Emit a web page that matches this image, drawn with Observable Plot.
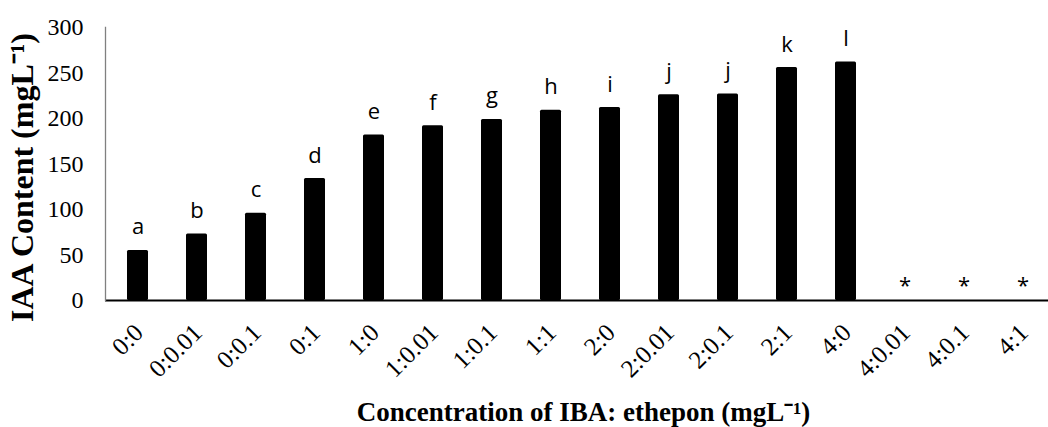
<!DOCTYPE html>
<html>
<head>
<meta charset="utf-8">
<script src="https://cdn.jsdelivr.net/npm/d3@7"></script>
<script src="https://cdn.jsdelivr.net/npm/@observablehq/plot@0.6"></script>
<style>
  html, body { margin: 0; padding: 0; background: #fff; }
  #chart svg { display: block; }
</style>
</head>
<body>
<div id="chart"></div>
<script>
const categories = ["0:0","0:0.01","0:0.1","0:1","1:0","1:0.01","1:0.1","1:1","2:0","2:0.01","2:0.1","2:1","4:0","4:0.01","4:0.1","4:1"];
const iaaValues = [55, 73, 96, 134, 182, 192, 199, 209, 212, 226, 227, 256, 262, 0, 0, 0];
const letters = ["a","b","c","d","e","f","g","h","i","j","j","k","l","*","*","*"];
const yTicks = [0, 50, 100, 150, 200, 250, 300];
const yTitle = "IAA Content (mgL\u207B\u00B9)";
const xTitle = "Concentration of IBA: ethepon (mgL\u207B\u00B9)";

const data = categories.map((c, i) => ({cat: c, value: iaaValues[i], letter: letters[i]}));
const bars = data.filter(d => d.value > 0);
const stars = data.filter(d => d.value === 0);

const serif = "'Liberation Serif', 'Times New Roman', serif";
const sans = "'Open Sans', 'Noto Sans', sans-serif";

const chart = Plot.plot({
  width: 1048,
  height: 427,
  marginLeft: 105,
  marginRight: 0,
  marginTop: 27,
  marginBottom: 127,
  style: {background: "#fff", color: "#000"},
  x: {domain: categories, range: [103, 1057], paddingInner: 0.65, paddingOuter: 0.325, axis: null},
  y: {domain: [0, 300], range: [300, 27], axis: null},
  marks: [
    Plot.barY(bars, {x: "cat", y: "value", fill: "#000", rx: 1.5}),
    Plot.ruleY([0], {stroke: "#000", strokeWidth: 2}),
    Plot.frame({anchor: "left", stroke: "#808080", strokeWidth: 1.3}),
    Plot.axisY({ticks: yTicks, tickSize: 0, tickPadding: 22, fontSize: 24, fontFamily: serif, label: null}),
    Plot.text(categories, {x: d => d, y: () => 0, text: d => d, rotate: -45, textAnchor: "end", lineAnchor: "middle", dx: 1, dy: 28, fontSize: 25, fontFamily: serif, fill: "#000"}),
    Plot.text(bars, {x: "cat", y: "value", text: "letter", lineAnchor: "bottom", dy: -16, fontSize: 22, fontFamily: sans, fill: "#000"}),
    Plot.text(stars, {x: "cat", y: "value", text: "letter", lineAnchor: "bottom", dy: -8, fontSize: 22, fontFamily: sans, fill: "#000"}),
    Plot.text([xTitle], {frameAnchor: "bottom", dx: 583 - (105 + 1048) / 2, dy: 120, lineAnchor: "bottom", fontSize: 27, fontWeight: "bold", fontFamily: serif, fill: "#000"}),
    Plot.text([yTitle], {frameAnchor: "left", textAnchor: "middle", dx: -73, dy: 177 - (27 + 300) / 2, rotate: -90, lineAnchor: "bottom", fontSize: 32, fontWeight: "bold", fontFamily: serif, fill: "#000"})
  ]
});
document.getElementById("chart").appendChild(chart);
</script>
</body>
</html>
